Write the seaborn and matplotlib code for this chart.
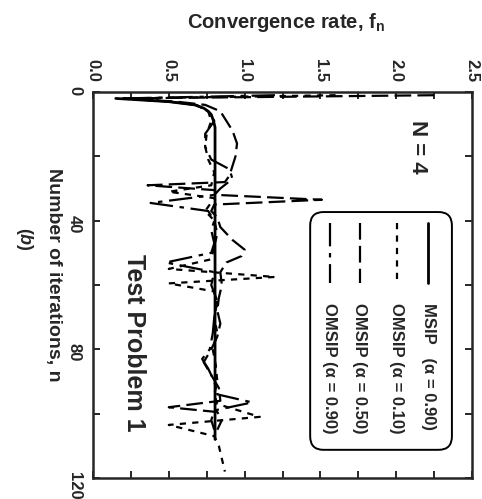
import numpy as np
import pandas as pd
import seaborn as sns
import matplotlib.pyplot as plt
from matplotlib.patches import FancyBboxPatch
from matplotlib.lines import Line2D
from matplotlib.ticker import MultipleLocator

# ---------------- data ----------------
n_msip = [2, 3, 4, 5, 6, 7, 9, 11, 108]
f_msip = [0.15, 0.50, 0.67, 0.73, 0.76, 0.78, 0.795, 0.805, 0.805]

n_010 = [1, 2, 3, 4, 6, 9, 13, 17, 21, 25, 29, 31, 33, 37, 40, 44, 48, 52, 55, 57.5,
         59.5, 62, 66, 70, 75, 80, 85, 90, 94, 97, 101, 103.5, 107, 110, 114, 118]
f_010 = [1.6, 0.2, 0.5, 0.68, 0.76, 0.78, 0.75, 0.74, 0.76, 0.80, 0.78, 0.5, 0.80, 0.74,
         0.80, 0.82, 0.80, 0.78, 0.5, 1.2, 0.5, 0.80, 0.82, 0.80, 0.82, 0.79, 0.81, 0.82,
         0.80, 0.82, 1.1, 0.5, 0.80, 0.83, 0.85, 0.87]

n_050 = [1, 2, 3, 4, 6, 9, 12, 16, 20, 23, 26, 28, 29, 30.5, 32, 33.5, 35, 37, 39, 42,
         46, 49, 51, 53, 56, 60, 64, 68, 72, 76, 80, 84, 88, 92, 96, 98, 99.5, 102, 105]
f_050 = [2.25, 0.2, 0.55, 0.74, 0.84, 0.88, 0.92, 0.95, 0.94, 0.92, 0.90, 0.87, 0.36,
         0.80, 0.82, 1.51, 0.80, 0.78, 0.82, 0.84, 0.92, 1.0, 0.98, 0.88, 0.84, 0.85,
         0.83, 0.82, 0.84, 0.82, 0.78, 0.73, 0.78, 0.83, 0.84, 0.5, 0.82, 0.85, 0.82]

n_090 = [1, 2, 3, 4, 6, 9, 13, 17, 21, 24, 27, 30, 32, 34.5, 37, 40, 43, 47, 50, 53,
         56, 60, 65, 70, 75, 80, 83, 86, 90, 94, 96.5, 99, 102, 105]
f_090 = [1.2, 0.2, 0.5, 0.68, 0.76, 0.80, 0.74, 0.74, 0.78, 0.90, 0.92, 0.84, 0.80,
         0.38, 0.76, 0.80, 0.78, 0.80, 0.78, 0.48, 0.80, 0.78, 0.82, 0.80, 0.79, 0.77,
         0.72, 0.76, 0.80, 0.82, 1.05, 0.80, 0.78, 0.80]

legend_labels = ["MSIP   (\u03b1 = 0.90)", "OMSIP (\u03b1 = 0.10)",
                 "OMSIP (\u03b1 = 0.50)", "OMSIP (\u03b1 = 0.90)"]
x_ticks = [0.0, 0.5, 1.0, 1.5, 2.0, 2.5]
x_ticklabels = ["0.0", "0.5", "1.0", "1.5", "2.0", "2.5"]
y_ticks = [0, 40, 80, 120]
y_ticklabels = ["0", "40", "80", "120"]

# ---------------- style ----------------
sns.set_style("ticks")
plt.rcParams['font.family'] = ['Liberation Sans', 'DejaVu Sans']
plt.rcParams['font.weight'] = 'bold'
plt.rcParams['mathtext.fontset'] = 'custom'
plt.rcParams['mathtext.rm'] = 'Liberation Sans:bold'
plt.rcParams['mathtext.it'] = 'Liberation Sans:italic:bold'
plt.rcParams['mathtext.bf'] = 'Liberation Sans:bold'

styles = [
    dict(lw=2.0, linestyle='-'),
    dict(lw=1.6, linestyle=(0, (2.8, 2.8))),
    dict(lw=1.6, linestyle=(0, (7.5, 2.8))),
    dict(lw=1.6, linestyle=(0, (10.5, 3.0, 2.0, 3.0))),
]

fig = plt.figure(figsize=(4.82, 4.99), dpi=100)
ax = fig.add_axes([93/482, 1-478/499, (472-93)/482, (478-92)/499])

series = [(n_msip, f_msip), (n_010, f_010), (n_050, f_050), (n_090, f_090)]
for (nn, ff), st in zip(series, styles):
    sns.lineplot(x=ff, y=nn, orient='y', sort=False, estimator=None,
                 color='black', ax=ax, **st)

ax.set_xlim(0, 2.5)
ax.set_ylim(120, 0)
ax.set_xlabel('')
ax.set_ylabel('')

ax.xaxis.tick_top()
ax.set_xticks(x_ticks)
ax.set_xticklabels(x_ticklabels)
ax.xaxis.set_minor_locator(MultipleLocator(0.25))
ax.set_yticks(y_ticks)
ax.set_yticklabels(y_ticklabels)
ax.yaxis.set_minor_locator(MultipleLocator(20))
ax.tick_params(which='both', direction='in', top=True, bottom=True, left=True,
               right=True, length=5, width=1.4)
ax.tick_params(axis='x', labeltop=True, labelbottom=False, labelrotation=-90,
               pad=7, labelsize=12)
ax.tick_params(axis='y', labelleft=True, labelright=False, labelrotation=-90,
               pad=8, labelsize=12)
for s in ax.spines.values():
    s.set_linewidth(1.8)

# axis titles
fig.text(286/482, 1-22/499, 'Convergence rate, f$_\\mathregular{n}$', ha='center',
         va='center', fontsize=14.5)
fig.text(53/482, 1-275/499, 'Number of iterations, n', rotation=-90, ha='center',
         va='center', fontsize=14)
fig.text(25/482, 1-239/499, '($\\mathit{b}$)', rotation=-90, ha='center',
         va='center', fontsize=13)

ax.text(0.855, 0.858, 'N = 4', rotation=-90, ha='center', va='center',
        fontsize=16, transform=ax.transAxes)
ax.text(0.108, 0.350, 'Test Problem 1', rotation=-90, ha='center', va='center',
        fontsize=18, transform=ax.transAxes)

# legend (rotated, drawn manually)
box = FancyBboxPatch((0.573, 0.073), 0.374, 0.616,
                     boxstyle='round,pad=0,rounding_size=0.035',
                     transform=ax.transAxes, fc='white', ec='black', lw=1.4,
                     zorder=5)
ax.add_patch(box)
cols = [0.884, 0.802, 0.704, 0.625]
for xc, lab, st in zip(cols, legend_labels, styles):
    ax.add_line(Line2D([xc, xc], [0.661, 0.505], transform=ax.transAxes,
                       color='black', zorder=6, **st))
    ax.text(xc, 0.453, lab, rotation=-90, rotation_mode='anchor', ha='left',
            va='center', fontsize=12, transform=ax.transAxes, zorder=6)

fig.savefig('out.png', dpi=100)
